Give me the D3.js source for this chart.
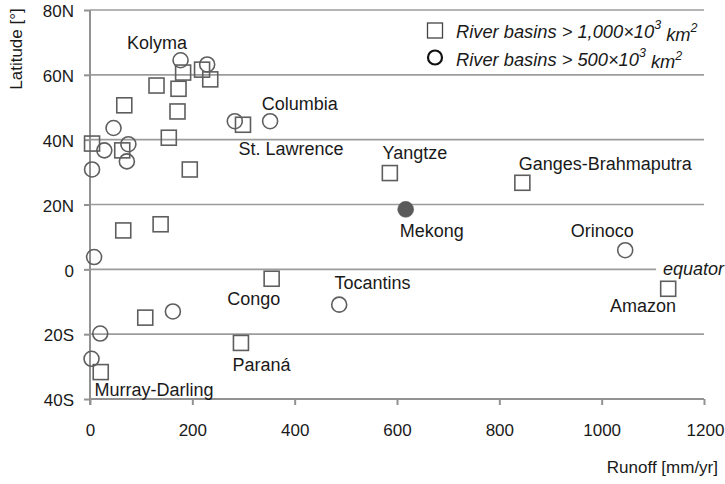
<!DOCTYPE html>
<html>
<head>
<meta charset="utf-8">
<script src="https://cdn.jsdelivr.net/npm/d3@7"></script>
<style>
  html, body { margin: 0; padding: 0; background: #fff; }
  svg { display: block; font-family: "Liberation Sans", Arial, sans-serif; }
</style>
</head>
<body>
<svg id="chart" width="725" height="484"></svg>
<script>
// ---- data (runoff in mm/yr, latitude in degrees; south negative) ----
const largeRunoff   = [182, 219, 235, 130, 173, 67, 171, 299, 154, 4, 63, 195, 65, 138, 355, 108, 295, 21, 586, 845, 1130];
const largeLatitude = [60.7, 61.6, 58.6, 56.7, 55.7, 50.6, 48.7, 44.6, 40.6, 38.8, 36.7, 30.8, 12, 13.9, -2.9, -14.9, -22.7, -31.7, 29.7, 26.7, -6.0];

const mediumRunoff   = [177, 229, 283, 352, 46, 28, 75, 72, 4, 8, 487, 162, 20, 3, 1046];
const mediumLatitude = [64.5, 63.2, 45.7, 45.7, 43.6, 36.7, 38.6, 33.3, 30.8, 3.8, -10.9, -13, -19.8, -27.6, 5.9];

const highlightName = ["Mekong"];
const highlightRunoff = [617];
const highlightLatitude = [18.5];

const labelNames    = ["Kolyma", "Columbia", "St. Lawrence", "Yangtze", "Ganges-Brahmaputra", "Mekong", "Orinoco", "Tocantins", "Congo", "Amazon", "Paraná", "Murray-Darling"];
const labelRunoff   = [131, 410, 393, 635, 1007, 668, 1001, 552, 320, 1081, 335, 125];
const labelLatitude = [69.7, 51.1, 37.0, 35.8, 32.6, 11.7, 11.7, -4.3, -9.0, -11.4, -29.6, -37.3];

const xTicks = [0, 200, 400, 600, 800, 1000, 1200];
const yTicks = [-40, -20, 0, 20, 40, 60, 80];
const yTickLabels = ["40S", "20S", "0", "20N", "40N", "60N", "80N"];
const equatorLabel = "equator";
const equatorRunoff = 1120;

const xTitle = "Runoff [mm/yr]";
const yTitle = "Latitude [°]";
const legendLarge = ["River basins > 1,000×10", "3", " km", "2"];
const legendMedium = ["River basins > 500×10", "3", " km", "2"];

// ---- layout ----
const svg = d3.select("#chart");
const x = d3.scaleLinear().domain([0, 1200]).range([90, 704]);
const y = d3.scaleLinear().domain([-40, 80]).range([399, 10]);

const gridColor = "#9c9c9c";
const axisColor = "#929292";
const markColor = "#5e5e5e";
const textColor = "#1a1a1a";
const fs = 17;      // tick labels
const lfs = 18;     // annotations
const legfs = 18.3; // legend

// gridlines
svg.append("g").selectAll("line")
  .data(yTicks.filter(d => d !== -40))
  .join("line")
  .attr("x1", x(0))
  .attr("x2", d => d === 0 ? x(equatorRunoff) - 7 : x(1200))
  .attr("y1", d => y(d)).attr("y2", d => y(d))
  .attr("stroke", gridColor).attr("stroke-width", 1.7);

// x axis
const xAxis = svg.append("g")
  .attr("transform", `translate(0,${y(-40)})`)
  .call(d3.axisBottom(x).tickValues(xTicks).tickSize(6).tickSizeOuter(0).tickPadding(19).tickFormat(d3.format("d")));
xAxis.select(".domain").remove();
xAxis.selectAll(".tick line").attr("stroke", axisColor).attr("stroke-width", 2);
xAxis.selectAll(".tick text").attr("font-size", fs).attr("fill", textColor)
  .attr("font-family", "Liberation Sans, Arial, sans-serif")
  .attr("dx", d => d === 1200 ? 1 : 0);
svg.append("line")
  .attr("x1", x(0)).attr("x2", x(1200))
  .attr("y1", y(-40)).attr("y2", y(-40))
  .attr("stroke", axisColor).attr("stroke-width", 2);

// y axis
const yAxis = svg.append("g")
  .attr("transform", `translate(${x(0)},0)`)
  .call(d3.axisLeft(y).tickValues(yTicks).tickSize(6).tickSizeOuter(0).tickPadding(10)
    .tickFormat((d, i) => yTickLabels[i]));
yAxis.select(".domain").remove();
yAxis.selectAll(".tick line").attr("stroke", axisColor).attr("stroke-width", 2);
yAxis.selectAll(".tick text").attr("font-size", fs).attr("fill", textColor)
  .attr("font-family", "Liberation Sans, Arial, sans-serif").attr("dy", "0.4em");
svg.append("line")
  .attr("x1", x(0)).attr("x2", x(0))
  .attr("y1", y(80)).attr("y2", y(-40) + 6)
  .attr("stroke", axisColor).attr("stroke-width", 2);

// axis titles
svg.append("text")
  .attr("transform", `translate(16,${49}) rotate(-90)`)
  .attr("text-anchor", "middle").attr("dominant-baseline", "central")
  .attr("font-size", fs).attr("fill", textColor)
  .text(yTitle);
svg.append("text")
  .attr("x", 718).attr("y", 467)
  .attr("text-anchor", "end").attr("dominant-baseline", "central")
  .attr("font-size", fs).attr("fill", textColor)
  .text(xTitle);

// markers
const side = 15, r = 7.5;
const large = largeRunoff.map((v, i) => ({ x: v, y: largeLatitude[i] }));
const medium = mediumRunoff.map((v, i) => ({ x: v, y: mediumLatitude[i] }));
const highlight = highlightRunoff.map((v, i) => ({ x: v, y: highlightLatitude[i], name: highlightName[i] }));

svg.append("g").selectAll("rect").data(large).join("rect")
  .attr("x", d => x(d.x) - side / 2).attr("y", d => y(d.y) - side / 2)
  .attr("width", side).attr("height", side)
  .attr("fill", "none").attr("stroke", markColor).attr("stroke-width", 1.6);

svg.append("g").selectAll("circle").data(medium).join("circle")
  .attr("cx", d => x(d.x)).attr("cy", d => y(d.y)).attr("r", r)
  .attr("fill", "none").attr("stroke", markColor).attr("stroke-width", 1.6);

svg.append("g").selectAll("circle").data(highlight).join("circle")
  .attr("cx", d => x(d.x)).attr("cy", d => y(d.y)).attr("r", r + 0.5)
  .attr("fill", "#5a5a5a").attr("stroke", "#5a5a5a").attr("stroke-width", 0.5);

// labels
svg.append("g").selectAll("text")
  .data(labelNames.map((n, i) => ({ n, x: labelRunoff[i], y: labelLatitude[i] })))
  .join("text")
  .attr("x", d => x(d.x)).attr("y", d => y(d.y))
  .attr("text-anchor", "middle").attr("dominant-baseline", "central")
  .attr("font-size", lfs).attr("fill", textColor)
  .text(d => d.n);

svg.append("text")
  .attr("x", x(equatorRunoff)).attr("y", y(0))
  .attr("dominant-baseline", "central")
  .attr("font-size", lfs).attr("font-style", "italic").attr("fill", textColor)
  .text(equatorLabel);

// legend
const lg = svg.append("g");
lg.append("rect").attr("x", 427.5).attr("y", 23).attr("width", side).attr("height", side)
  .attr("fill", "none").attr("stroke", "#444").attr("stroke-width", 1.3);
lg.append("circle").attr("cx", 435).attr("cy", 57.5).attr("r", 7)
  .attr("fill", "none").attr("stroke", "#111").attr("stroke-width", 2.2);

function legendText(parts, yy) {
  const t = lg.append("text").attr("x", 456).attr("y", yy)
    .attr("dominant-baseline", "central")
    .attr("font-size", legfs).attr("font-style", "italic").attr("fill", textColor);
  t.append("tspan").text(parts[0]);
  t.append("tspan").attr("font-size", legfs * 0.68).attr("dy", "-0.45em").text(parts[1]);
  t.append("tspan").attr("dy", "0.45em").text(parts[2]);
  t.append("tspan").attr("font-size", legfs * 0.68).attr("dy", "-0.45em").text(parts[3]);
}
legendText(legendLarge, 31);
legendText(legendMedium, 58.5);
</script>
</body>
</html>
